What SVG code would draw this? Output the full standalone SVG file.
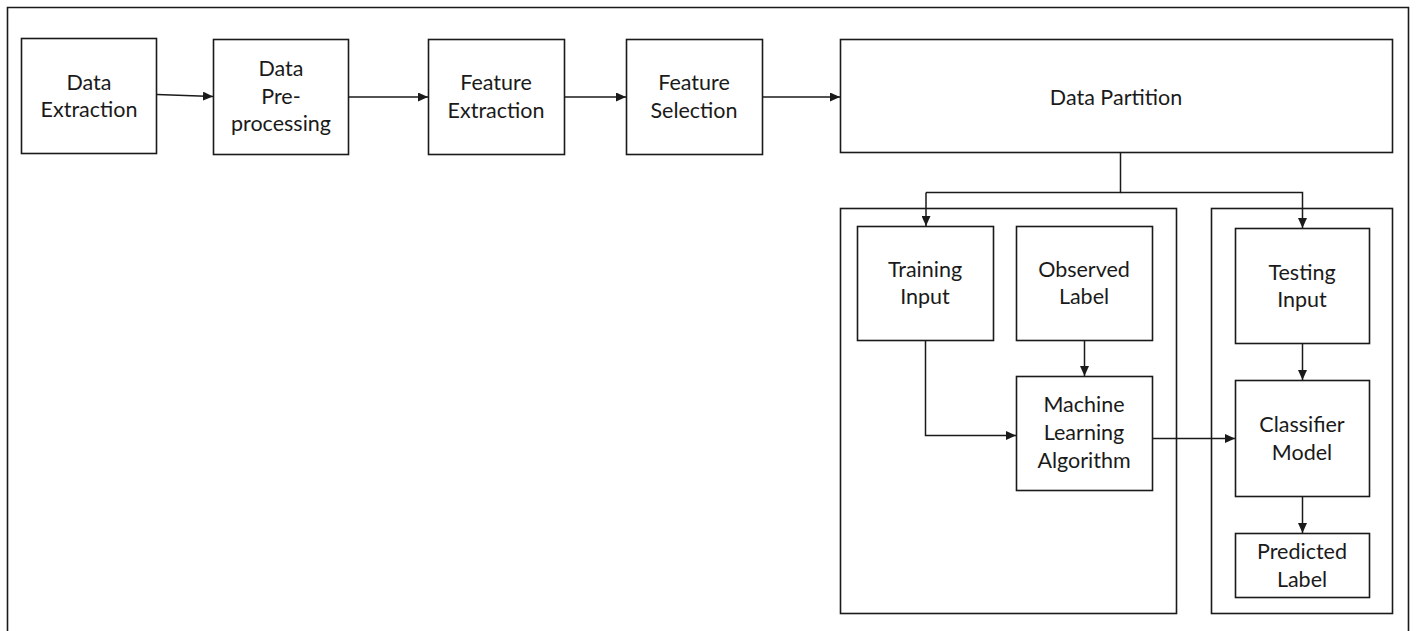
<svg xmlns="http://www.w3.org/2000/svg" width="1416" height="631" viewBox="0 0 1416 631">
  <defs>
    <style>
      .box { fill: #ffffff; stroke: #1a1a1a; stroke-width: 1.6; }
      .frame { fill: none; stroke: #1a1a1a; stroke-width: 1.6; }
      .wire { fill: none; stroke: #1a1a1a; stroke-width: 1.5; }
      .lbl { font-family: "Lato", "Open Sans", sans-serif; font-size: 21.5px; fill: #1a1a1a; text-anchor: middle; }
    </style>
    <marker id="arrow" viewBox="0 0 10 10" refX="10" refY="5" markerWidth="10" markerHeight="9" markerUnits="userSpaceOnUse" orient="auto" preserveAspectRatio="none">
      <path d="M0,0 L10,5 L0,10 z" fill="#1a1a1a"/>
    </marker>
  </defs>

  <rect width="1416" height="631" fill="#ffffff"/>

  <!-- outer frame (open at the bottom edge) -->
  <path class="frame" d="M7.5,640 V7.5 H1408.5 V640"/>

  <!-- training and testing containers -->
  <g id="training-stage">
    <rect class="frame" x="840.5" y="208.5" width="336" height="405"/>
  </g>
  <g id="testing-stage">
    <rect class="frame" x="1211.5" y="208.5" width="181" height="405"/>
  </g>

  <!-- pipeline nodes -->
  <g id="data-extraction">
    <rect class="box" x="21.5" y="38.5" width="135" height="115"/>
    <text class="lbl" x="89" y="90">Data</text>
    <text class="lbl" x="89" y="117">Extraction</text>
  </g>
  <g id="data-preprocessing">
    <rect class="box" x="213.5" y="39.5" width="135" height="115"/>
    <text class="lbl" x="281" y="76">Data</text>
    <text class="lbl" x="281" y="104">Pre-</text>
    <text class="lbl" x="281" y="131">processing</text>
  </g>
  <g id="feature-extraction">
    <rect class="box" x="428.5" y="39.5" width="136" height="115"/>
    <text class="lbl" x="496" y="90">Feature</text>
    <text class="lbl" x="496" y="118">Extraction</text>
  </g>
  <g id="feature-selection">
    <rect class="box" x="626.5" y="39.5" width="136" height="115"/>
    <text class="lbl" x="694" y="90">Feature</text>
    <text class="lbl" x="694" y="118">Selection</text>
  </g>
  <g id="data-partition">
    <rect class="box" x="840.5" y="39.5" width="552" height="113"/>
    <text class="lbl" x="1116" y="105">Data Partition</text>
  </g>

  <!-- training side -->
  <g id="training-input">
    <rect class="box" x="857.5" y="226.5" width="136" height="114"/>
    <text class="lbl" x="925" y="277">Training</text>
    <text class="lbl" x="925" y="304">Input</text>
  </g>
  <g id="observed-label">
    <rect class="box" x="1016.5" y="226.5" width="136" height="114"/>
    <text class="lbl" x="1084" y="277">Observed</text>
    <text class="lbl" x="1084" y="304">Label</text>
  </g>
  <g id="ml-algorithm">
    <rect class="box" x="1016.5" y="376.5" width="136" height="114"/>
    <text class="lbl" x="1084" y="412">Machine</text>
    <text class="lbl" x="1084" y="440">Learning</text>
    <text class="lbl" x="1084" y="468">Algorithm</text>
  </g>

  <!-- testing side -->
  <g id="testing-input">
    <rect class="box" x="1235.5" y="228.5" width="134" height="115"/>
    <text class="lbl" x="1302" y="280">Testing</text>
    <text class="lbl" x="1302" y="307">Input</text>
  </g>
  <g id="classifier-model">
    <rect class="box" x="1235.5" y="380.5" width="134" height="116"/>
    <text class="lbl" x="1302" y="432">Classifier</text>
    <text class="lbl" x="1302" y="460">Model</text>
  </g>
  <g id="predicted-label">
    <rect class="box" x="1235.5" y="533.5" width="134" height="64"/>
    <text class="lbl" x="1302" y="559">Predicted</text>
    <text class="lbl" x="1302" y="587">Label</text>
  </g>

  <!-- connectors -->
  <g id="connectors">
    <path class="wire" d="M157,94.5 L213,96.5" marker-end="url(#arrow)"/>
    <path class="wire" d="M349,97 H428" marker-end="url(#arrow)"/>
    <path class="wire" d="M565,97 H626" marker-end="url(#arrow)"/>
    <path class="wire" d="M763,97 H840" marker-end="url(#arrow)"/>
    <path class="wire" d="M1120.5,153 V192.5 H926"/>
    <path class="wire" d="M926,192.5 V226" marker-end="url(#arrow)"/>
    <path class="wire" d="M1120.5,192.5 H1302.5 V228" marker-end="url(#arrow)"/>
    <path class="wire" d="M925.5,341 V435.5 H1016" marker-end="url(#arrow)"/>
    <path class="wire" d="M1084.5,341 V376" marker-end="url(#arrow)"/>
    <path class="wire" d="M1153,438.5 H1235" marker-end="url(#arrow)"/>
    <path class="wire" d="M1302.5,344 V380" marker-end="url(#arrow)"/>
    <path class="wire" d="M1302.5,497 V533" marker-end="url(#arrow)"/>
  </g>
</svg>
